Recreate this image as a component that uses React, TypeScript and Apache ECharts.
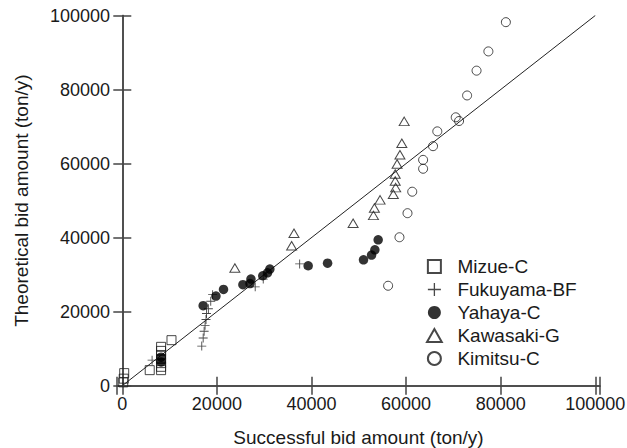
import React, { useEffect, useRef } from "react";
import * as echarts from "echarts";

const mizue: number[][] = [
  [400, 3400], [300, 1900], [200, 900], [5800, 4200], [10400, 12300],
  [8200, 10500], [8200, 9400], [8200, 8300], [8200, 7200], [8200, 6100], [8200, 5100], [8200, 4200],
];
const fukuyama: number[][] = [
  [6300, 6900], [16800, 10700], [17100, 12900], [17300, 14700], [17500, 16300], [17700, 17900],
  [17800, 19500], [18200, 20800], [18700, 22800], [19100, 24600], [28100, 26700], [29800, 28800],
  [37500, 32900],
];
const yahaya: number[][] = [
  [8200, 7700], [8200, 6400], [17100, 21600], [19800, 24200], [21400, 26000], [25500, 27300],
  [27000, 27600], [27200, 28800], [29700, 29700], [30700, 30500], [31200, 31500], [39300, 32400],
  [43400, 33100], [51000, 34000], [52700, 35300], [53400, 36700], [54100, 39400],
];
const kawasaki: number[][] = [
  [23800, 31800], [35800, 37800], [36300, 41200], [48800, 43900], [53100, 46000], [53300, 48000],
  [54500, 50200], [57300, 51700], [57800, 53500], [57700, 55300], [57700, 57200], [58100, 59900],
  [58700, 62400], [59100, 65500], [59600, 71400],
];
const kimitsu: number[][] = [
  [56200, 27000], [58600, 40100], [60300, 46600], [61300, 52400], [63600, 58600], [63600, 61000],
  [65700, 64700], [66600, 68700], [71200, 71500], [70500, 72500], [72900, 78400], [74900, 85100],
  [77400, 90300], [81100, 98200],
];
const diagonal: number[][] = [[0, 0], [100000, 100000]];

const seriesNames = ["Mizue-C", "Fukuyama-BF", "Yahaya-C", "Kawasaki-G", "Kimitsu-C"];
const xTitle = "Successful bid amount (ton/y)";
const yTitle = "Theoretical bid amount (ton/y)";

const PLUS = "path://M4.5,0 H5.5 V4.5 H10 V5.5 H5.5 V10 H4.5 V5.5 H0 V4.5 H4.5 Z";
const SQUARE = "path://M0,0 H10 V10 H0 Z";
const TRI = "path://M5,0 L10,8.8 L0,8.8 Z";
const FONT = "'Liberation Sans', Arial, sans-serif";
const INK = "#1a1a1a";
const AXIS = "#444";

export default function App() {
  const ref = useRef<HTMLDivElement>(null);
  useEffect(() => {
    if (!ref.current) return;
    const chart = echarts.init(ref.current, undefined, { renderer: "svg" });
    const hollow = { color: "rgba(255,255,255,0)", borderColor: INK, borderWidth: 1 };
    const axisCommon = {
      axisLine: { show: true, lineStyle: { color: AXIS, width: 1.5 } },
      axisTick: { show: true, inside: true, length: 9, lineStyle: { color: AXIS, width: 1.5 } },
      splitLine: { show: false },
    };
    const fmt = (v: number) => (v % 20000 === 0 && v >= 0 && v <= 100000 ? String(v) : "");
    chart.setOption({
      animation: false,
      backgroundColor: "#fff",
      textStyle: { fontFamily: FONT },
      grid: { left: 117, right: 27, top: 15.5, bottom: 62.3, containLabel: false, outerBoundsMode: "none" },
      xAxis: [
        {
          type: "value", position: "bottom", min: -1120, max: 101000, splitNumber: 5,
          minInterval: 20000, maxInterval: 20000,
          name: xTitle, nameLocation: "middle", nameGap: 42,
          nameTextStyle: { fontSize: 19, color: INK, fontFamily: FONT },
          axisLabel: { margin: 9, fontSize: 18, color: INK, fontFamily: FONT, formatter: fmt, showMinLabel: true, showMaxLabel: true },
          ...axisCommon,
        },
        {
          type: "value", position: "top", min: -1120, max: 101000, splitNumber: 5,
          minInterval: 20000, maxInterval: 20000,
          axisLabel: { show: false },
          ...axisCommon,
        },
      ],
      yAxis: [
        {
          type: "value", position: "left", min: 0, max: 100000, interval: 20000,
          name: yTitle, nameLocation: "middle", nameGap: 86,
          nameTextStyle: { fontSize: 19, color: INK, fontFamily: FONT },
          axisLabel: { margin: 7, fontSize: 18, color: INK, fontFamily: FONT, formatter: (v: number) => String(v) },
          ...axisCommon,
        },
        {
          type: "value", position: "right", min: 0, max: 100000, interval: 20000,
          axisLabel: { show: false },
          ...axisCommon,
        },
      ],
      legend: {
        orient: "vertical", left: 426, top: 257, padding: 0,
        itemWidth: 36, itemHeight: 13, itemGap: 4, symbolKeepAspect: true,
        textStyle: { fontSize: 19, color: INK, fontFamily: FONT, lineHeight: 19 },
        data: [
          { name: seriesNames[0], icon: SQUARE },
          { name: seriesNames[1], icon: PLUS },
          { name: seriesNames[2], icon: "circle" },
          { name: seriesNames[3], icon: TRI },
          { name: seriesNames[4], icon: "circle" },
        ],
      },
      series: [
        {
          type: "line", data: diagonal, showSymbol: false, silent: true,
          lineStyle: { color: "#222", width: 1 }, z: 1,
        },
        { name: seriesNames[0], type: "scatter", data: mizue, symbol: "rect", symbolSize: 9, itemStyle: hollow, z: 3 },
        { name: seriesNames[1], type: "scatter", data: fukuyama, symbol: PLUS, symbolSize: 9, itemStyle: { color: INK }, z: 3 },
        { name: seriesNames[2], type: "scatter", data: yahaya, symbol: "circle", symbolSize: 9.5, itemStyle: { color: "#000" }, z: 3 },
        { name: seriesNames[3], type: "scatter", data: kawasaki, symbol: "triangle", symbolSize: [10, 8.5], itemStyle: hollow, z: 3 },
        { name: seriesNames[4], type: "scatter", data: kimitsu, symbol: "circle", symbolSize: 9, itemStyle: hollow, z: 3 },
      ],
    });
    return () => chart.dispose();
  }, []);
  return <div ref={ref} style={{ position: "fixed", left: 0, top: 0, width: 627, height: 448 }} />;
}
